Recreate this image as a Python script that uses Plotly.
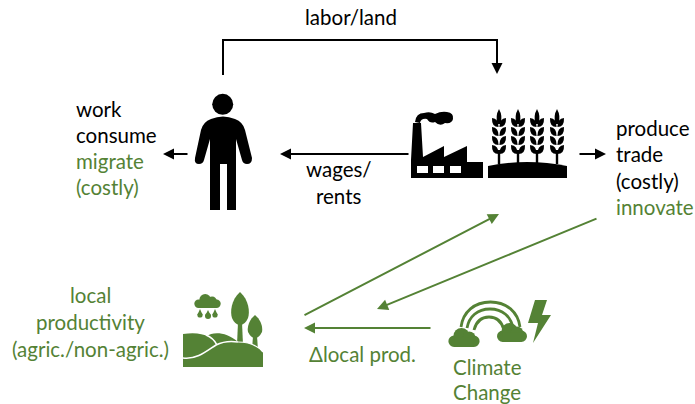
import plotly.graph_objects as go

W, H = 695, 404
BLACK = "#000000"
GREEN = "#548235"
FONT = "Lato"
FS = 20.5

# label, x, y, colour, anchor
labels = [
    ("labor/land", 351, 17, BLACK, "center"),
    ("work", 74, 109, BLACK, "left"),
    ("consume", 74, 135, BLACK, "left"),
    ("migrate", 74, 161, GREEN, "left"),
    ("(costly)", 74, 187, GREEN, "left"),
    ("wages/", 339, 169, BLACK, "center"),
    ("rents", 339, 196, BLACK, "center"),
    ("produce", 614, 128, BLACK, "left"),
    ("trade", 614, 154, BLACK, "left"),
    ("(costly)", 614, 181, BLACK, "left"),
    ("innovate", 614, 207, GREEN, "left"),
    ("local", 90, 295, GREEN, "center"),
    ("productivity", 90, 322, GREEN, "center"),
    ("(agric./non-agric.)", 90, 349, GREEN, "center"),
    ("Δlocal prod.", 362, 354, GREEN, "center"),
    ("Climate", 487, 367, GREEN, "center"),
    ("Change", 487, 392, GREEN, "center"),
]
# x0, y0, x1, y1, colour (tail to head)
arrows = [
    (223, 40, 497, 74, BLACK, "elbow"),
    (189, 154, 163, 154, BLACK, None),
    (410, 154, 280, 154, BLACK, None),
    (578, 154, 606, 154, BLACK, None),
    (303, 316, 499, 214, GREEN, None),
    (598, 218, 377, 309, GREEN, None),
    (432, 328, 304, 328, GREEN, None),
]
wheat_x = [499, 518, 537, 557]
window_x = [417, 433, 450]
drops = [(200, 315, 2.6), (208, 316, 3), (215, 315, 2.6)]

shapes = []
annotations = []


def path(d, fill=BLACK, line=None, width=0):
    shapes.append(dict(type="path", path=d, fillcolor=fill or "rgba(0,0,0,0)",
                       line=dict(color=line or "rgba(0,0,0,0)", width=width), layer="above"))


def circle(cx, cy, r, fill=BLACK):
    shapes.append(dict(type="circle", x0=cx - r, x1=cx + r, y0=cy - r, y1=cy + r,
                       fillcolor=fill, line=dict(width=0), layer="above"))


def cloud(x0, x1, base, top, fill):
    w = x1 - x0
    h = base - top
    circle(x0 + w * 0.19, base - h * 0.3, h * 0.3, fill)
    circle(x1 - w * 0.19, base - h * 0.3, h * 0.3, fill)
    circle(x0 + w * 0.42, top + h * 0.42, h * 0.42, fill)
    circle(x0 + w * 0.66, top + h * 0.52, h * 0.34, fill)
    path(f"M{x0+w*.19},{base} L{x1-w*.19},{base} L{x1-w*.19},{base-h*.5} L{x0+w*.19},{base-h*.5} Z", fill)


# Person
circle(222.7, 104.3, 10.5)
path("M211,119 Q223,114 235,119 Q243,122 245,130 L252,158 Q252,164 247,164 Q243,164 242,160 "
     "L236,139 L236,210 L227,210 L227,164 L220,164 L220,210 L210,210 L210,139 L204,160 "
     "Q203,164 199,164 Q194,164 195,158 L201,130 Q203,122 211,119 Z")

# Factory
path("M413,123 L421,123 L423,157 L444,146 L444,157 L467,146 L467,162 L483,162 L483,178 L411,178 L411,160 Z")
for x in window_x:
    shapes.append(dict(type="rect", x0=x, x1=x + 11, y0=166, y1=173, fillcolor="white",
                       line=dict(width=0), layer="above"))
path("M415,122 Q416,113 424,113 Q430,111 435,114 Q441,111 447,112 Q454,113 453,119 Q452,124 445,123 "
     "Q440,127 435,122 Q430,124 427,119 Q421,118 420,123 Z")

# Wheat field
path("M488,166 Q527,158 567,166 L567,178 L488,178 Z")
for x in wheat_x:
    path(f"M{x-1.2},150 L{x+1.2},150 L{x+1.2},164 L{x-1.2},164 Z")
    path(f"M{x},109 Q{x+4},116 {x+1.5},124 L{x-1.5},124 Q{x-4},116 {x},109 Z")
    for y in (121, 130, 139, 148):
        path(f"M{x-.4},{y+6} Q{x-7.5},{y+6} {x-7},{y-3} Q{x-.4},{y-2.5} {x-.4},{y+6} Z")
        path(f"M{x+.4},{y+6} Q{x+7.5},{y+6} {x+7},{y-3} Q{x+.4},{y-2.5} {x+.4},{y+6} Z")

# Landscape
cloud(193, 222, 308, 294, GREEN)
for cx, cy, r in drops:
    circle(cx, cy, r, GREEN)
    path(f"M{cx},{cy-6} L{cx+r},{cy} L{cx-r},{cy} Z", GREEN)
path("M240,292 C231,300 230,312 232,318 Q235,325 240,325 Q245,325 248,318 C250,312 249,300 240,292 Z", GREEN)
path("M238,322 L242,322 L243,345 L237,345 Z", GREEN)
path("M255,315 C249,320 247,327 248,332 Q251,338 255,338 Q259,338 262,332 C263,327 261,320 255,315 Z", GREEN)
path("M253,336 L257,336 L258,350 L252,350 Z", GREEN)
path("M183,334 C195,332 203,334 207,336 C212,332 226,331 238,342 C248,342 257,345 263,352 L263,367 L183,367 Z", GREEN)
path("M183,358 C197,360 208,350 216,345 C224,341 232,341 238,342", None, "white", 1.6)
path("M238,342 C248,342 257,345 263,352", None, "white", 1.2)
path("M206,335 C211,337 215,341 217,345", None, "white", 1.6)

# Climate icon
for x0, x1, top, bot in [(461, 520, 302, 327), (467, 513, 309, 328), (474, 504, 317, 330)]:
    mid = (x0 + x1) / 2
    h = bot - top
    w = (x1 - x0) / 2
    path(f"M{x0},{bot} C{x0+2},{bot-h*.6} {mid-w*.55},{top} {mid},{top} "
         f"C{mid+w*.55},{top} {x1-2},{bot-h*.6} {x1},{bot}", None, GREEN, 2.8)
cloud(448, 480, 347, 328, GREEN)
cloud(497, 527, 342, 323, GREEN)
path("M535,300 L547,300 L542,315 L551,315 L533,343 L538,323 L528,323 Z", GREEN)

# Arrows
for x0, y0, x1, y1, col, kind in arrows:
    if kind == "elbow":
        path(f"M{x0},75 L{x0},{y0} L{x1},{y0} L{x1},{y1-4}", None, col, 2)
        annotations.append(dict(x=x1, y=y1, ax=x1, ay=y1 - 12, xref="x", yref="y", axref="x", ayref="y",
                                showarrow=True, arrowhead=2, arrowsize=1.1, arrowwidth=2,
                                arrowcolor=col, text=""))
    else:
        annotations.append(dict(x=x1, y=y1, ax=x0, ay=y0, xref="x", yref="y", axref="x", ayref="y",
                                showarrow=True, arrowhead=2, arrowsize=1.1, arrowwidth=2,
                                arrowcolor=col, text=""))

# Text
for text, x, y, col, anchor in labels:
    annotations.append(dict(x=x, y=y, text=text, showarrow=False, xref="x", yref="y", xanchor=anchor,
                            yanchor="middle", font=dict(family=FONT, size=FS, color=col)))

fig = go.Figure()
fig.update_layout(
    width=W, height=H, margin=dict(l=0, r=0, t=0, b=0), paper_bgcolor="white", plot_bgcolor="white",
    xaxis=dict(range=[0, W], visible=False, fixedrange=True),
    yaxis=dict(range=[H, 0], visible=False, fixedrange=True),
    shapes=shapes, annotations=annotations, showlegend=False,
)
fig.write_html("out.html", config=dict(displayModeBar=False),
               post_script="document.body.style.margin='0';document.body.style.overflow='hidden';")
